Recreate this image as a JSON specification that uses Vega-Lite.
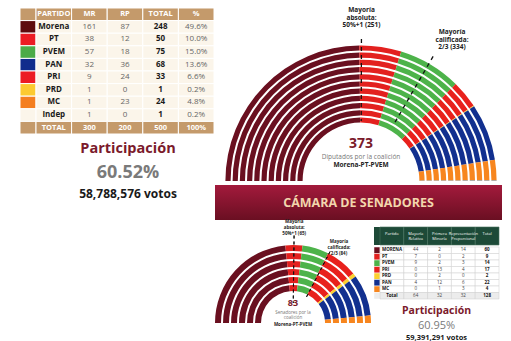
{
  "$schema": "https://vega.github.io/schema/vega-lite/v6.json",
  "background": "#ffffff",
  "padding": {"left": 19, "top": 0, "right": 0, "bottom": 0},
  "config": {"view": {"stroke": null}, "font": "Open Sans", "text": {"font": "Open Sans"}},
  "datasets": {
    "dipSeats": [
      {"partido": "Morena", "ord": 1, "seats": 248},
      {"partido": "PT", "ord": 2, "seats": 50},
      {"partido": "PVEM", "ord": 3, "seats": 75},
      {"partido": "PRI", "ord": 4, "seats": 33},
      {"partido": "PRD", "ord": 5, "seats": 1},
      {"partido": "PAN", "ord": 6, "seats": 68},
      {"partido": "MC", "ord": 7, "seats": 24},
      {"partido": "Indep", "ord": 8, "seats": 1}
    ],
    "senSeats": [
      {"partido": "Morena", "ord": 1, "seats": 60},
      {"partido": "PT", "ord": 2, "seats": 9},
      {"partido": "PVEM", "ord": 3, "seats": 14},
      {"partido": "PRI", "ord": 4, "seats": 17},
      {"partido": "PRD", "ord": 5, "seats": 2},
      {"partido": "PAN", "ord": 6, "seats": 22},
      {"partido": "MC", "ord": 7, "seats": 4}
    ],
    "dipTable": [
      {"r": "hdr", "PARTIDO": "PARTIDO", "MR": "MR", "RP": "RP", "TOTAL": "TOTAL", "PCT": "%"},
      {"r": "Morena", "PARTIDO": "Morena", "MR": "161", "RP": "87", "TOTAL": "248", "PCT": "49.6%"},
      {"r": "PT", "PARTIDO": "PT", "MR": "38", "RP": "12", "TOTAL": "50", "PCT": "10.0%"},
      {"r": "PVEM", "PARTIDO": "PVEM", "MR": "57", "RP": "18", "TOTAL": "75", "PCT": "15.0%"},
      {"r": "PAN", "PARTIDO": "PAN", "MR": "32", "RP": "36", "TOTAL": "68", "PCT": "13.6%"},
      {"r": "PRI", "PARTIDO": "PRI", "MR": "9", "RP": "24", "TOTAL": "33", "PCT": "6.6%"},
      {"r": "PRD", "PARTIDO": "PRD", "MR": "1", "RP": "0", "TOTAL": "1", "PCT": "0.2%"},
      {"r": "MC", "PARTIDO": "MC", "MR": "1", "RP": "23", "TOTAL": "24", "PCT": "4.8%"},
      {"r": "Indep", "PARTIDO": "Indep", "MR": "1", "RP": "0", "TOTAL": "1", "PCT": "0.2%"},
      {"r": "tot", "PARTIDO": "TOTAL", "MR": "300", "RP": "200", "TOTAL": "500", "PCT": "100%"}
    ],
    "senHead": [
      {"r": "hdr", "P": "Partido", "MR": "Mayoría\nRelativa", "PM": "Primera\nMinoría", "RP": "Representación\nProporcional", "T": "Total"}
    ],
    "senTable": [
      {"r": "MORENA", "P": "MORENA", "MR": "44", "PM": "2", "RP": "14", "T": "60"},
      {"r": "PT", "P": "PT", "MR": "7", "PM": "0", "RP": "2", "T": "9"},
      {"r": "PVEM", "P": "PVEM", "MR": "9", "PM": "2", "RP": "3", "T": "14"},
      {"r": "PRI", "P": "PRI", "MR": "0", "PM": "13", "RP": "4", "T": "17"},
      {"r": "PRD", "P": "PRD", "MR": "0", "PM": "2", "RP": "0", "T": "2"},
      {"r": "PAN", "P": "PAN", "MR": "4", "PM": "12", "RP": "6", "T": "22"},
      {"r": "MC", "P": "MC", "MR": "0", "PM": "1", "RP": "3", "T": "4"},
      {"r": "Total", "P": "Total", "MR": "64", "PM": "32", "RP": "32", "T": "128"}
    ]
  },
  "spacing": 0,
  "resolve": {"scale": {"theta": "independent", "color": "independent", "fill": "independent"}},
  "hconcat": [
    {
      "spacing": 0,
      "resolve": {"scale": {"theta": "independent", "color": "independent", "fill": "independent"}},
      "vconcat": [
        {
          "spacing": 0,
          "bounds": "flush",
          "resolve": {"scale": {"theta": "independent", "color": "independent", "fill": "independent"}},
          "hconcat": [
            {
              "width": 16,
              "height": 134,
              "data": {"name": "dipTable"},
              "mark": {"type": "rect", "stroke": "#ffffff", "strokeWidth": 1},
              "encoding": {
                "y": {"field": "r", "type": "nominal", "sort": ["hdr", "Morena", "PT", "PVEM", "PAN", "PRI", "PRD", "MC", "Indep", "tot"], "axis": null, "scale": {"paddingInner": 0, "paddingOuter": 0.317, "align": 1}},
                "fill": {"field": "r", "type": "nominal", "legend": null, "scale": {"domain": ["hdr", "Morena", "PT", "PVEM", "PAN", "PRI", "PRD", "MC", "Indep", "tot"], "range": ["#c49a6b", "#5e0b0e", "#ec1c24", "#4cab48", "#102c8c", "#ec1c24", "#fcca30", "#f47e20", "#fbf5ea", "#c49a6b"]}}
              }
            },
            {
              "width": 178,
              "height": 134,
              "data": {"name": "dipTable"},
              "transform": [{"fold": ["PARTIDO", "MR", "RP", "TOTAL", "PCT"], "as": ["c", "t"]}],
              "encoding": {
                "x": {"field": "c", "type": "nominal", "sort": ["PARTIDO", "MR", "RP", "TOTAL", "PCT"], "axis": null, "scale": {"paddingInner": 0, "paddingOuter": 0}},
                "y": {"field": "r", "type": "nominal", "sort": ["hdr", "Morena", "PT", "PVEM", "PAN", "PRI", "PRD", "MC", "Indep", "tot"], "axis": null, "scale": {"paddingInner": 0, "paddingOuter": 0.317, "align": 1}}
              },
              "layer": [
                {
                  "mark": {"type": "rect", "stroke": "#ffffff", "strokeWidth": 1},
                  "encoding": {"fill": {"condition": {"test": "datum.r === 'hdr' || datum.r === 'tot'", "value": "#c49a6b"}, "value": "#fbf5ea"}}
                },
                {
                  "transform": [{"filter": "datum.r === 'hdr' || datum.r === 'tot'"}],
                  "mark": {"type": "text", "fontSize": 7.5, "fontWeight": "bold", "fill": "#ffffff"},
                  "encoding": {"text": {"field": "t"}}
                },
                {
                  "transform": [{"filter": "datum.r !== 'hdr' && datum.r !== 'tot' && (datum.c === 'PARTIDO' || datum.c === 'TOTAL')"}],
                  "mark": {"type": "text", "fontSize": 8, "fontWeight": "bold", "fill": "#1a1a1a"},
                  "encoding": {"text": {"field": "t"}}
                },
                {
                  "transform": [{"filter": "datum.r !== 'hdr' && datum.r !== 'tot' && datum.c !== 'PARTIDO' && datum.c !== 'TOTAL'"}],
                  "mark": {"type": "text", "fontSize": 8, "fill": "#666666"},
                  "encoding": {"text": {"field": "t"}}
                }
              ]
            }
          ]
        },
        {
          "width": 194,
          "height": 76,
          "data": {"values": [{"a": "Participación", "b": "60.52%", "c": "58,788,576 votos"}]},
          "layer": [
            {"mark": {"type": "text", "fontSize": 14.5, "fontWeight": "bold", "fill": "#7b1a2b", "dx": 11, "dy": -24}, "encoding": {"text": {"field": "a"}}},
            {"mark": {"type": "text", "fontSize": 18, "fontWeight": "bold", "fill": "#7a7a7a", "dx": 11, "dy": 0}, "encoding": {"text": {"field": "b"}}},
            {"mark": {"type": "text", "fontSize": 12, "fontWeight": "bold", "fill": "#1a1a1a", "dx": 11, "dy": 21}, "encoding": {"text": {"field": "c"}}}
          ]
        }
      ]
    },
    {
      "spacing": 4,
      "bounds": "flush",
      "resolve": {"scale": {"theta": "independent", "color": "independent", "fill": "independent"}},
      "vconcat": [
        {
          "width": 292,
          "height": 181,
          "layer": [
            {
              "data": {"name": "dipSeats"},
              "encoding": {
                "theta": {"field": "seats", "type": "quantitative", "stack": true, "scale": {"domain": [0, 500], "range": [-1.5708, 1.5708]}},
                "color": {"field": "partido", "type": "nominal", "legend": null, "scale": {"domain": ["Morena", "PT", "PVEM", "PRI", "PRD", "PAN", "MC", "Indep"], "range": ["#6a1020", "#e3211f", "#4db34a", "#e8211c", "#fcd02f", "#12308f", "#f7861f", "#9a9a9a"]}},
                "order": {"field": "ord", "type": "quantitative"}
              },
              "layer": [
                {"mark": {"type": "arc", "y": "height", "radius": 63.6, "innerRadius": 58.4}},
                {"mark": {"type": "arc", "y": "height", "radius": 70.8, "innerRadius": 65.6}},
                {"mark": {"type": "arc", "y": "height", "radius": 78, "innerRadius": 72.8}},
                {"mark": {"type": "arc", "y": "height", "radius": 85.2, "innerRadius": 80}},
                {"mark": {"type": "arc", "y": "height", "radius": 92.4, "innerRadius": 87.2}},
                {"mark": {"type": "arc", "y": "height", "radius": 99.6, "innerRadius": 94.4}},
                {"mark": {"type": "arc", "y": "height", "radius": 106.8, "innerRadius": 101.6}},
                {"mark": {"type": "arc", "y": "height", "radius": 114, "innerRadius": 108.8}},
                {"mark": {"type": "arc", "y": "height", "radius": 121.2, "innerRadius": 116}},
                {"mark": {"type": "arc", "y": "height", "radius": 128.4, "innerRadius": 123.2}},
                {"mark": {"type": "arc", "y": "height", "radius": 135.6, "innerRadius": 130.4}}
              ]
            },
            {
              "data": {"values": [{"thr": 250.5}]},
              "mark": {"type": "arc", "y": "height", "radius": 142, "innerRadius": 60, "filled": false, "stroke": "#111111", "strokeWidth": 1.3, "strokeDash": [4, 4]},
              "encoding": {
                "theta": {"field": "thr", "type": "quantitative", "stack": false, "scale": {"domain": [0, 500], "range": [-1.5708, 1.5708]}},
                "theta2": {"field": "thr"}
              }
            },
            {
              "data": {"values": [{"thr": 333.5}]},
              "mark": {"type": "arc", "y": "height", "radius": 144, "innerRadius": 66, "filled": false, "stroke": "#111111", "strokeWidth": 1.3, "strokeDash": [4, 4]},
              "encoding": {
                "theta": {"field": "thr", "type": "quantitative", "stack": false, "scale": {"domain": [0, 500], "range": [-1.5708, 1.5708]}},
                "theta2": {"field": "thr"}
              }
            },
            {
              "data": {"values": [{"thr": 250.5, "t": "Mayoría\nabsoluta:\n50%+1 (251)"}]},
              "mark": {"type": "text", "y": "height", "radius": 168, "baseline": "bottom", "lineBreak": "\n", "lineHeight": 7.5, "fontSize": 6.5, "fontWeight": "bold", "fill": "#222222"},
              "encoding": {
                "theta": {"field": "thr", "type": "quantitative", "stack": false, "scale": {"domain": [0, 500], "range": [-1.5708, 1.5708]}},
                "text": {"field": "t"}
              }
            },
            {
              "data": {"values": [{"thr": 333.5, "t": "Mayoría\ncalificada:\n2/3 (334)"}]},
              "mark": {"type": "text", "y": "height", "radius": 165, "dx": 8.4, "dy": -3, "baseline": "bottom", "lineBreak": "\n", "lineHeight": 7.5, "fontSize": 6.5, "fontWeight": "bold", "fill": "#222222"},
              "encoding": {
                "theta": {"field": "thr", "type": "quantitative", "stack": false, "scale": {"domain": [0, 500], "range": [-1.5708, 1.5708]}},
                "text": {"field": "t"}
              }
            },
            {
              "data": {"values": [{"t": "373"}]},
              "mark": {"type": "text", "y": "height", "dy": -37, "fontSize": 14, "fontWeight": "bold", "fill": "#7a1a2a"},
              "encoding": {"text": {"field": "t"}}
            },
            {
              "data": {"values": [{"t": "Diputados por la coalición"}]},
              "mark": {"type": "text", "y": "height", "dy": -24, "fontSize": 6.5, "fill": "#777777"},
              "encoding": {"text": {"field": "t"}}
            },
            {
              "data": {"values": [{"t": "Morena-PT-PVEM"}]},
              "mark": {"type": "text", "y": "height", "dy": -16, "fontSize": 6.5, "fontWeight": "bold", "fill": "#222222"},
              "encoding": {"text": {"field": "t"}}
            }
          ]
        },
        {
          "width": 287,
          "height": 35,
          "data": {"values": [{"t": "CÁMARA DE SENADORES"}]},
          "layer": [
            {
              "mark": {"type": "rect", "fill": {"gradient": "linear", "x1": 0, "y1": 0, "x2": 0, "y2": 1, "stops": [{"offset": 0, "color": "#a31a3c"}, {"offset": 1, "color": "#6a0f22"}]}},
              "encoding": {}
            },
            {
              "mark": {"type": "text", "fontSize": 12.5, "fontWeight": "bold", "fill": "#f2d6ad"},
              "encoding": {"text": {"field": "t"}}
            }
          ]
        },
        {
          "spacing": 3,
          "bounds": "flush",
          "resolve": {"scale": {"theta": "independent", "color": "independent", "fill": "independent"}},
          "hconcat": [
            {
              "width": 156,
              "height": 99,
              "layer": [
                {
                  "data": {"name": "senSeats"},
                  "encoding": {
                    "theta": {"field": "seats", "type": "quantitative", "stack": true, "scale": {"domain": [0, 128], "range": [-1.5708, 1.5708]}},
                    "color": {"field": "partido", "type": "nominal", "legend": null, "scale": {"domain": ["Morena", "PT", "PVEM", "PRI", "PRD", "PAN", "MC"], "range": ["#6a1020", "#e3211f", "#4db34a", "#e8211c", "#fcd02f", "#12308f", "#f7861f"]}},
                    "order": {"field": "ord", "type": "quantitative"}
                  },
                  "layer": [
                    {"mark": {"type": "arc", "y": "height", "radius": 38, "innerRadius": 32}},
                    {"mark": {"type": "arc", "y": "height", "radius": 46, "innerRadius": 40}},
                    {"mark": {"type": "arc", "y": "height", "radius": 54, "innerRadius": 48}},
                    {"mark": {"type": "arc", "y": "height", "radius": 62, "innerRadius": 56}},
                    {"mark": {"type": "arc", "y": "height", "radius": 70, "innerRadius": 64}},
                    {"mark": {"type": "arc", "y": "height", "radius": 78, "innerRadius": 72}}
                  ]
                },
                {
                  "data": {"values": [{"thr": 64.5}]},
                  "mark": {"type": "arc", "y": "height", "radius": 87.5, "innerRadius": 20, "filled": false, "stroke": "#111111", "strokeWidth": 1, "strokeDash": [3, 3]},
                  "encoding": {
                    "theta": {"field": "thr", "type": "quantitative", "stack": false, "scale": {"domain": [0, 128], "range": [-1.5708, 1.5708]}},
                    "theta2": {"field": "thr"}
                  }
                },
                {
                  "data": {"values": [{"thr": 83.5}]},
                  "mark": {"type": "arc", "y": "height", "radius": 80.5, "innerRadius": 28, "filled": false, "stroke": "#111111", "strokeWidth": 1, "strokeDash": [3, 3]},
                  "encoding": {
                    "theta": {"field": "thr", "type": "quantitative", "stack": false, "scale": {"domain": [0, 128], "range": [-1.5708, 1.5708]}},
                    "theta2": {"field": "thr"}
                  }
                },
                {
                  "data": {"values": [{"thr": 64.5, "t": "Mayoría\nabsoluta:\n50%+1 (65)"}]},
                  "mark": {"type": "text", "y": "height", "radius": 99, "baseline": "bottom", "lineBreak": "\n", "lineHeight": 5.8, "fontSize": 4.5, "fontWeight": "bold", "fill": "#222222"},
                  "encoding": {
                    "theta": {"field": "thr", "type": "quantitative", "stack": false, "scale": {"domain": [0, 128], "range": [-1.5708, 1.5708]}},
                    "text": {"field": "t"}
                  }
                },
                {
                  "data": {"values": [{"thr": 83.5, "t": "Mayoría\ncalificada:\n2/3 (84)"}]},
                  "mark": {"type": "text", "y": "height", "radius": 81, "dx": 8.7, "dy": -7, "baseline": "bottom", "lineBreak": "\n", "lineHeight": 6, "fontSize": 4.5, "fontWeight": "bold", "fill": "#222222"},
                  "encoding": {
                    "theta": {"field": "thr", "type": "quantitative", "stack": false, "scale": {"domain": [0, 128], "range": [-1.5708, 1.5708]}},
                    "text": {"field": "t"}
                  }
                },
                {
                  "data": {"values": [{"t": "83"}]},
                  "mark": {"type": "text", "y": "height", "dy": -20, "fontSize": 9, "fontWeight": "bold", "fill": "#7a1a2a"},
                  "encoding": {"text": {"field": "t"}}
                },
                {
                  "data": {"values": [{"t": "Senadores por la\ncoalición"}]},
                  "mark": {"type": "text", "y": "height", "dy": -10.5, "lineBreak": "\n", "lineHeight": 5.8, "fontSize": 4.5, "fill": "#777777"},
                  "encoding": {"text": {"field": "t"}}
                },
                {
                  "data": {"values": [{"t": "Morena-PT-PVEM"}]},
                  "mark": {"type": "text", "y": "height", "dy": 2, "fontSize": 4.5, "fontWeight": "bold", "fill": "#222222"},
                  "encoding": {"text": {"field": "t"}}
                }
              ]
            },
            {
              "spacing": 0,
              "resolve": {"scale": {"theta": "independent", "color": "independent", "fill": "independent"}},
              "vconcat": [
                {
                  "spacing": 0,
                  "bounds": "flush",
                  "hconcat": [
                    {
                      "width": 6,
                      "height": 21,
                      "data": {"values": [{"r": "hdr"}]},
                      "mark": {"type": "rect", "fill": "#1d4a38"},
                      "encoding": {
                        "y": {"field": "r", "type": "nominal", "axis": null, "scale": {"paddingInner": 0, "paddingOuter": 0.0833, "align": 1}}
                      }
                    },
                    {
                      "width": 119,
                      "height": 21,
                      "data": {"name": "senHead"},
                      "transform": [{"fold": ["P", "MR", "PM", "RP", "T"], "as": ["c", "t"]}],
                      "encoding": {
                        "x": {"field": "c", "type": "nominal", "sort": ["P", "MR", "PM", "RP", "T"], "axis": null, "scale": {"paddingInner": 0, "paddingOuter": 0}},
                        "y": {"field": "r", "type": "nominal", "axis": null, "scale": {"paddingInner": 0, "paddingOuter": 0.0833, "align": 1}}
                      },
                      "layer": [
                        {"mark": {"type": "rect", "fill": "#1d4a38", "stroke": "#4a735f", "strokeWidth": 0.6}},
                        {"mark": {"type": "text", "fill": "#ffffff", "fontSize": 4, "lineBreak": "\n", "lineHeight": 5, "dy": -2}, "encoding": {"text": {"field": "t"}}}
                      ]
                    }
                  ]
                },
                {
                  "spacing": 0,
                  "bounds": "flush",
                  "resolve": {"scale": {"fill": "independent"}},
                  "hconcat": [
                    {
                      "width": 6,
                      "height": 52,
                      "data": {"name": "senTable"},
                      "mark": {"type": "rect", "stroke": "#ffffff", "strokeWidth": 0.5},
                      "encoding": {
                        "y": {"field": "r", "type": "nominal", "sort": ["MORENA", "PT", "PVEM", "PRI", "PRD", "PAN", "MC", "Total"], "axis": null, "scale": {"paddingInner": 0, "paddingOuter": 0}},
                        "fill": {"field": "r", "type": "nominal", "legend": null, "scale": {"domain": ["MORENA", "PT", "PVEM", "PRI", "PRD", "PAN", "MC", "Total"], "range": ["#6a1020", "#e3211f", "#4db34a", "#e8211c", "#fcd02f", "#12308f", "#f7861f", "#ececec"]}}
                      }
                    },
                    {
                      "width": 119,
                      "height": 52,
                      "data": {"name": "senTable"},
                      "transform": [{"fold": ["P", "MR", "PM", "RP", "T"], "as": ["c", "t"]}],
                      "encoding": {
                        "x": {"field": "c", "type": "nominal", "sort": ["P", "MR", "PM", "RP", "T"], "axis": null, "scale": {"paddingInner": 0, "paddingOuter": 0}},
                        "y": {"field": "r", "type": "nominal", "sort": ["MORENA", "PT", "PVEM", "PRI", "PRD", "PAN", "MC", "Total"], "axis": null, "scale": {"paddingInner": 0, "paddingOuter": 0}}
                      },
                      "layer": [
                        {
                          "mark": {"type": "rect", "stroke": "#cfcfcf", "strokeWidth": 0.5},
                          "encoding": {"fill": {"condition": {"test": "datum.r === 'Total'", "value": "#ececec"}, "value": "#ffffff"}}
                        },
                        {
                          "transform": [{"filter": "datum.c === 'P' && datum.r !== 'Total'"}],
                          "mark": {"type": "text", "align": "left", "dx": 2, "fontSize": 4.5, "fontWeight": "bold", "fill": "#111111"},
                          "encoding": {"x": {"field": "c", "type": "nominal", "sort": ["P", "MR", "PM", "RP", "T"], "bandPosition": 0, "axis": null}, "text": {"field": "t"}}
                        },
                        {
                          "transform": [{"filter": "(datum.c === 'P' && datum.r === 'Total') || datum.c === 'T'"}],
                          "mark": {"type": "text", "fontSize": 4.5, "fontWeight": "bold", "fill": "#111111"},
                          "encoding": {"text": {"field": "t"}}
                        },
                        {
                          "transform": [{"filter": "datum.c !== 'P' && datum.c !== 'T'"}],
                          "mark": {"type": "text", "fontSize": 4.5, "fill": "#444444"},
                          "encoding": {"text": {"field": "t"}}
                        }
                      ]
                    }
                  ]
                },
                {
                  "width": 125,
                  "height": 44,
                  "data": {"values": [{"a": "Participación", "b": "60.95%", "c": "59,391,291 votos"}]},
                  "layer": [
                    {"mark": {"type": "text", "fontSize": 10.5, "fontWeight": "bold", "fill": "#7b1a2b", "dy": -11}, "encoding": {"text": {"field": "a"}}},
                    {"mark": {"type": "text", "fontSize": 11, "fill": "#7a7a7a", "dy": 4}, "encoding": {"text": {"field": "b"}}},
                    {"mark": {"type": "text", "fontSize": 7.5, "fontWeight": "bold", "fill": "#1a1a1a", "dy": 16}, "encoding": {"text": {"field": "c"}}}
                  ]
                }
              ]
            }
          ]
        }
      ]
    }
  ]
}
